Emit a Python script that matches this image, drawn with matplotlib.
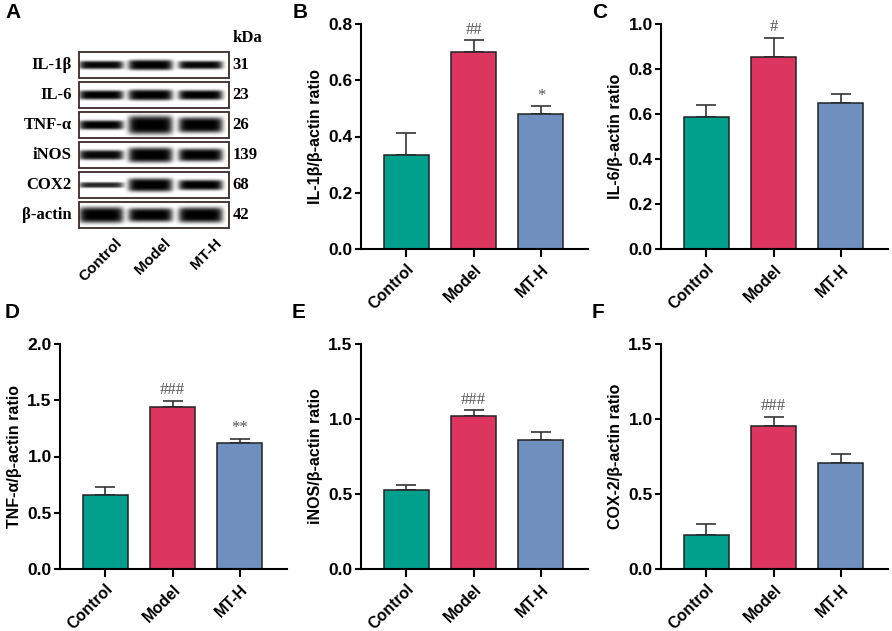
import numpy as np
import matplotlib
matplotlib.use("Agg")
import matplotlib.pyplot as plt
from matplotlib.patches import Rectangle

plt.rcParams['font.family'] = ['Liberation Sans', 'DejaVu Sans']
plt.rcParams['font.weight'] = 'bold'

groups = ["Control", "Model", "MT-H"]
colors = ["#00A08C", "#DC3560", "#6F8FBF"]

# bar panels: means, upper error, significance marks
il1b_mean = [0.334, 0.700, 0.480]
il1b_err = [0.080, 0.042, 0.027]
il1b_sig = ["", "##", "*"]

il6_mean = [0.588, 0.855, 0.647]
il6_err = [0.053, 0.083, 0.042]
il6_sig = ["", "#", ""]

tnf_mean = [0.658, 1.443, 1.120]
tnf_err = [0.071, 0.053, 0.036]
tnf_sig = ["", "###", "**"]

inos_mean = [0.527, 1.018, 0.858]
inos_err = [0.035, 0.040, 0.058]
inos_sig = ["", "###", ""]

cox2_mean = [0.229, 0.951, 0.704]
cox2_err = [0.069, 0.065, 0.060]
cox2_sig = ["", "###", ""]

# western blot: protein rows, kDa, band thickness and darkness per lane
blot_proteins = ["IL-1β", "IL-6", "TNF-α", "iNOS", "COX2", "β-actin"]
blot_kda = ["31", "23", "26", "139", "68", "42"]
band_thick = [[0.32, 0.40, 0.32],
              [0.36, 0.42, 0.38],
              [0.36, 0.72, 0.60],
              [0.38, 0.58, 0.50],
              [0.22, 0.52, 0.40],
              [0.62, 0.54, 0.60]]
band_dark = [[0.97, 1.0, 0.97],
             [1.0, 1.0, 1.0],
             [1.0, 1.0, 1.0],
             [0.97, 1.0, 1.0],
             [0.85, 1.0, 1.0],
             [1.0, 1.0, 1.0]]

W, H = 892, 631
fig = plt.figure(figsize=(W / 100, H / 100), dpi=100)


def px_axes(x0, y0, x1, y1):
    return fig.add_axes([x0 / W, 1 - y1 / H, (x1 - x0) / W, (y1 - y0) / H])


def bar_panel(ax, means, errs, sigs, ymax, step, ylabel):
    x = np.arange(len(groups))
    ax.bar(x, means, width=0.67, color=colors, edgecolor="#222222",
           linewidth=1.1, zorder=2)
    ax.errorbar(x, means, yerr=[np.zeros(len(errs)), errs], fmt="none",
                ecolor="#333333", elinewidth=1.2, capsize=7, capthick=1.2,
                zorder=1)
    for xi, m, e, s in zip(x, means, errs, sigs):
        if s:
            ax.annotate(s, (xi, m + e), xytext=(0, 2), textcoords="offset points",
                        ha="center", va="bottom", fontsize=12, color="#555555",
                        family="Liberation Serif", fontweight="normal")
    ax.set_xlim(-0.676, 2.70)
    ax.set_ylim(0, ymax)
    ax.set_yticks(np.arange(0, ymax + 1e-9, step))
    ax.yaxis.set_major_formatter(matplotlib.ticker.FormatStrFormatter("%.1f"))
    ax.set_xticks(x)
    ax.set_xticklabels(groups, rotation=45, ha="right", rotation_mode="anchor",
                       fontsize=11.5, fontweight="bold")
    ax.set_ylabel(ylabel, fontsize=11.5, fontweight="bold", labelpad=4)
    for lab in ax.get_yticklabels():
        lab.set_fontsize(12.5)
        lab.set_fontweight("bold")
    ax.spines["top"].set_visible(False)
    ax.spines["right"].set_visible(False)
    ax.spines["left"].set_linewidth(1.5)
    ax.spines["bottom"].set_linewidth(1.5)
    ax.tick_params(axis="y", length=4, width=1.5, pad=2)
    ax.tick_params(axis="x", length=6, width=1.5, pad=3)


axB = px_axes(361, 24, 588, 249)
bar_panel(axB, il1b_mean, il1b_err, il1b_sig, 0.8, 0.2, "IL-1β/β-actin ratio")
axC = px_axes(661, 24, 888, 249)
bar_panel(axC, il6_mean, il6_err, il6_sig, 1.0, 0.2, "IL-6/β-actin ratio")
axD = px_axes(60, 344, 287, 569)
bar_panel(axD, tnf_mean, tnf_err, tnf_sig, 2.0, 0.5, "TNF-α/β-actin ratio")
axE = px_axes(361, 344, 588, 569)
bar_panel(axE, inos_mean, inos_err, inos_sig, 1.5, 0.5, "iNOS/β-actin ratio")
axF = px_axes(661, 344, 888, 569)
bar_panel(axF, cox2_mean, cox2_err, cox2_sig, 1.5, 0.5, "COX-2/β-actin ratio")

# blot panel
axA = px_axes(79, 52, 229, 232)
nrow = len(blot_proteins)
pitch = 1.0
box_h = 0.86
axA.set_xlim(0, 3)
axA.set_ylim(nrow, 0)
axA.axis("off")
lane_c = [0.44, 1.42, 2.42]
u = np.linspace(0, 3, 300)
v = np.linspace(0, 1, 40)
U, V = np.meshgrid(u, v)
for i in range(nrow):
    img = np.ones_like(U)
    for j, c in enumerate(lane_c):
        th = band_thick[i][j]
        hw = 0.44
        prof = np.exp(-np.abs((U - c) / hw) ** 8) * np.exp(-np.abs((V - 0.5) / (th / 2)) ** 4)
        img -= band_dark[i][j] * prof
    img = np.clip(img, 0, 1)
    top = i * pitch
    axA.imshow(img, cmap="gray", vmin=0, vmax=1, aspect="auto",
               extent=(0, 3, top + box_h, top), interpolation="bilinear", zorder=1)
    axA.add_patch(Rectangle((0, top), 3, box_h, fill=False, edgecolor="#3a2a2a",
                            linewidth=1.3, zorder=3, clip_on=False))
    axA.text(-0.15, top + box_h / 2, blot_proteins[i], ha="right", va="center",
             family="Liberation Serif", fontsize=12, fontweight="bold")
    axA.text(3.07, top + box_h / 2, blot_kda[i], ha="left", va="center",
             family="Liberation Serif", fontsize=12, fontweight="bold")
axA.text(3.07, -0.45, "kDa", ha="left", va="center", family="Liberation Serif",
         fontsize=12, fontweight="bold")
for j, g in enumerate(groups):
    axA.text(lane_c[j] + 0.28, nrow + 0.12, g, rotation=45, ha="right", va="top",
             rotation_mode="anchor", fontsize=11, fontweight="bold")

# panel letters
for letter, (lx, ly) in zip("ABCDEF", [(5, 12), (293, 12), (592, 12),
                                       (5, 313), (292, 313), (592, 313)]):
    fig.text(lx / W, 1 - ly / H, letter, ha="left", va="center",
             fontsize=15, fontweight="bold")

fig.savefig("out.png", dpi=100)
